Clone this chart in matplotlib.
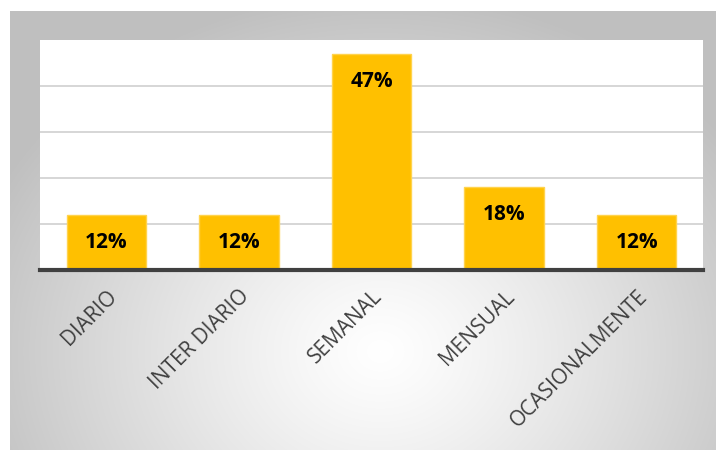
import numpy as np
import matplotlib.pyplot as plt

categorias = ['DIARIO', 'INTER DIARIO', 'SEMANAL', 'MENSUAL', 'OCASIONALMENTE']
porcentajes = [12, 12, 47, 18, 12]

W, H = 721, 450
fig = plt.figure(figsize=(W / 100, H / 100), dpi=100)
fig.patch.set_facecolor('white')

# fondo gris con degradado radial
bg = fig.add_axes([10 / W, 0, 706 / W, (H - 11) / H])
yy, xx = np.mgrid[0:439, 0:706]
cx, cy = 370, 340
r = np.sqrt(((xx - cx) / 430.0) ** 2 + ((yy - cy) / 360.0) ** 2)
g = 1.0 - 0.25 * np.clip(r, 0, 1) ** 1.2
bg.imshow(np.dstack([g, g, g]), aspect='auto', extent=[0, 1, 0, 1], origin='upper')
bg.set_axis_off()

ax = fig.add_axes([40 / W, (H - 270) / H, 663 / W, 230 / H])
ax.set_facecolor('white')
x = np.arange(len(categorias))
bars = ax.bar(x, porcentajes, width=0.6, color='#FFC000', edgecolor='#FFD34D',
              linewidth=1, zorder=3)
ax.set_xlim(-0.5, len(categorias) - 0.5)
ax.set_ylim(0, 50)
ax.set_yticks([10, 20, 30, 40])
ax.yaxis.grid(True, color='#d0d0d0', linewidth=1.2, zorder=0)
ax.tick_params(axis='y', left=False, labelleft=False)
ax.tick_params(axis='x', bottom=False, pad=8)
for s in ['top', 'left', 'right']:
    ax.spines[s].set_visible(False)
ax.spines['bottom'].set_color('#404040')
ax.spines['bottom'].set_linewidth(3)
ax.spines['bottom'].set_zorder(4)

ax.set_xticks(x)
ax.set_xticklabels(categorias, rotation=45, ha='right', rotation_mode='anchor',
                   fontsize=15, color='#404040', family='Open Sans')

for b, v in zip(bars, porcentajes):
    ax.text(b.get_x() + b.get_width() / 2, v - 6, f'{v}%', ha='center', va='center',
            fontsize=15, fontweight='bold', color='black', family='Open Sans', zorder=5)

fig.savefig('out.png', dpi=100)
